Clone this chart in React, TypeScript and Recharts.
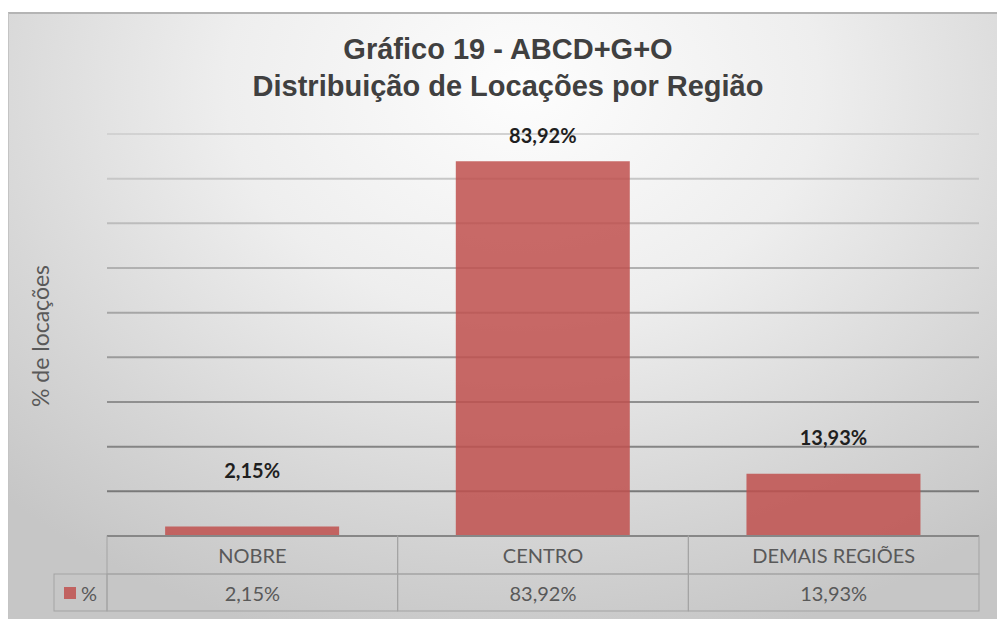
import React from 'react'
import { BarChart, Bar, XAxis, YAxis, CartesianGrid, LabelList } from 'recharts'

const regions = ['NOBRE', 'CENTRO', 'DEMAIS REGIÕES']
const shares = [2.15, 83.92, 13.93]
const yTicks = [0, 10, 20, 30, 40, 50, 60, 70, 80, 90]

const data = regions.map((region, i) => ({ region, share: shares[i] }))

const pct = (v: number) => `${v.toFixed(2).replace('.', ',')}%`

// label lift above bar top, px (the source placed them by hand)
const labelLift = [56, 26, 37]

const W = 997
const H = 619
const BAR = '#c0504d'
const TXT = '#595959'
const CELL = '#a3a3a3'
const FONT = 'Lato, "Noto Sans", sans-serif'

function TableTick(props: any) {
  const { x, y, payload, index, width, visibleTicksCount } = props
  const colW = width && visibleTicksCount ? width / visibleTicksCount : 290.7
  const x0 = x - colW / 2
  const r1 = 38
  const r2 = 37
  return (
    <g>
      <rect x={x0} y={y} width={colW} height={r1} fill="none" stroke={CELL} />
      <rect x={x0} y={y + r1} width={colW} height={r2} fill="none" stroke={CELL} />
      <text x={x} y={y + r1 / 2} textAnchor="middle" dominantBaseline="central"
        fill={TXT} fontSize={20} fontFamily={FONT}>{payload.value}</text>
      <text x={x} y={y + r1 + r2 / 2} textAnchor="middle" dominantBaseline="central"
        fill={TXT} fontSize={20} fontFamily={FONT}>{pct(shares[index])}</text>
      {index === 0 && (
        <g>
          <rect x={x0 - 53} y={y + r1} width={53} height={r2} fill="none" stroke={CELL} />
          <rect x={x0 - 43} y={y + r1 + 13} width={12} height={12} fill={BAR} fillOpacity={0.85} />
          <text x={x0 - 26} y={y + r1 + r2 / 2} dominantBaseline="central"
            fill={TXT} fontSize={20} fontFamily={FONT}>%</text>
        </g>
      )}
    </g>
  )
}

function ValueLabel(props: any) {
  const { x, y, width, value, index } = props
  return (
    <text x={x + width / 2} y={y - labelLift[index]} textAnchor="middle" dominantBaseline="central"
      fill="#1f1f1f" fontSize={20} fontWeight={700} fontFamily={FONT}>{pct(value)}</text>
  )
}

export default function App() {
  return (
    <div style={{ position: 'absolute', left: 0, top: 0, width: W, height: H, background: '#fff', overflow: 'hidden' }}>
      <div
        style={{
          position: 'absolute', left: 8, top: 12, width: W - 8, height: H - 12,
          boxSizing: 'border-box', borderTop: '2px solid #b4b4b4', borderLeft: '1px solid #c4c4c4',
          background: 'radial-gradient(ellipse 75% 95% at 52% 12%, #fdfdfd 0%, #eeeeee 40%, #d6d6d6 75%, #c6c6c6 100%)',
        }}
      />
      <div style={{ position: 'absolute', left: 0, top: 0 }}>
        <BarChart width={W} height={H} data={data} margin={{ top: 134, right: 18, bottom: 8, left: 107 }} barCategoryGap="20%">
          <defs>
            <linearGradient id="gridFade" gradientUnits="userSpaceOnUse" x1="0" y1="134" x2="0" y2="536">
              <stop offset="0%" stopColor="#d2d2d2" />
              <stop offset="100%" stopColor="#6e6e6e" />
            </linearGradient>
          </defs>
          <CartesianGrid vertical={false} stroke="url(#gridFade)" strokeWidth={2} />
          <YAxis hide domain={[0, 90]} ticks={yTicks} />
          <XAxis dataKey="region" height={75} tickSize={0} tickMargin={0} tickLine={false}
            axisLine={{ stroke: '#6a6a6a', strokeWidth: 2 }} tick={<TableTick />} interval={0} />
          <Bar dataKey="share" fill={BAR} fillOpacity={0.85} isAnimationActive={false}>
            <LabelList dataKey="share" content={<ValueLabel />} />
          </Bar>
        </BarChart>
      </div>
      <div style={{ position: 'absolute', left: 0, width: 1016, top: 31, textAlign: 'center', fontFamily: '"Liberation Sans", Arial, sans-serif', fontWeight: 700, fontSize: 29, color: '#404040', lineHeight: '37px' }}>
        Gráfico 19 - ABCD+G+O<br />Distribuição de Locações por Região
      </div>
      <div style={{ position: 'absolute', left: 40, top: 336, transform: 'translate(-50%, -50%) rotate(-90deg)', whiteSpace: 'nowrap', fontFamily: FONT, fontSize: 23, color: TXT }}>
        % de locações
      </div>
    </div>
  )
}
